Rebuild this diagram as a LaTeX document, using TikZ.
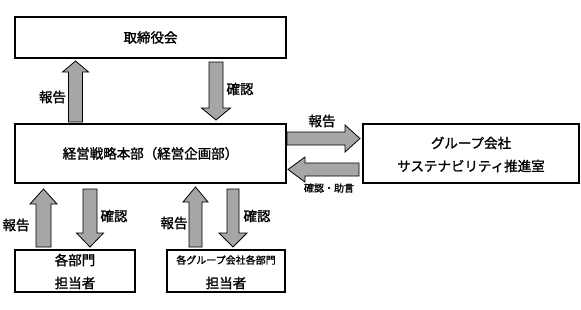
\documentclass[tikz,border=0pt]{standalone}
\usepackage{fontspec}
\setmainfont{Noto Sans CJK JP}[FakeBold=1.5,BoldFont=Noto Sans CJK JP]
\newcommand{\varr}[6]{% x, ytip, yheadbase, ytail, shaft half, head half
  \draw[blkarrow] ({#1-#5},#4) -- ({#1-#5},#3) -- ({#1-#6},#3) -- (#1,#2) -- ({#1+#6},#3) -- ({#1+#5},#3) -- ({#1+#5},#4) -- cycle;}
\newcommand{\harr}[6]{% y, xtip, xheadbase, xtail, shaft half, head half
  \draw[blkarrow] (#4,{#1-#5}) -- (#3,{#1-#5}) -- (#3,{#1-#6}) -- (#2,#1) -- (#3,{#1+#6}) -- (#3,{#1+#5}) -- (#4,{#1+#5}) -- cycle;}
\begin{document}
\begin{tikzpicture}[x=1pt,y=-1pt,
  box/.style={draw=black,line width=1.3pt,fill=white,inner sep=0pt,anchor=center},
  blkarrow/.style={draw=black,line width=0.8pt,fill=black!35},
  lbl/.style={inner sep=0pt,anchor=center,font=\fontsize{13.5}{16}\selectfont\bfseries},
  sml/.style={inner sep=0pt,anchor=center,font=\fontsize{10}{12}\selectfont\bfseries}]
\useasboundingbox (0,0) rectangle (581,309);
% boxes
\node[box,minimum width=271pt,minimum height=41pt] (board) at (150.5,37.5) {};
\node[box,minimum width=271pt,minimum height=59pt] (main) at (150.5,153.5) {};
\node[box,minimum width=216pt,minimum height=59pt] (sus) at (471,153.5) {};
\node[box,minimum width=120pt,minimum height=42pt] (dept) at (75,271) {};
\node[box,minimum width=118pt,minimum height=42pt] (grp) at (226,271) {};
% box texts
\node[lbl] (tboard) at (board.center) {取締役会};
\node[lbl] (tmain) at (main.center) {経営戦略本部（経営企画部）};
\node[lbl] (tsus1) at (471,143) {グループ会社};
\node[lbl] (tsus2) at (471,166) {サステナビリティ推進室};
\node[lbl] (tdept1) at (75,260) {各部門};
\node[lbl] (tdept2) at (75,283) {担当者};
\node[sml] (tgrp1) at (226,260) {各グループ会社各部門};
\node[lbl] (tgrp2) at (226,283) {担当者};
% block arrows
\varr{75.5}{61}{72}{122}{7}{13}
\varr{216}{120}{108}{62}{7}{14.5}
\varr{43.5}{189}{204}{247}{7.5}{13.5}
\varr{90}{247}{233}{189}{7}{13.5}
\varr{195.5}{187}{202}{247}{6.5}{12.5}
\varr{233}{247}{233}{189}{6}{14}
\harr{138.5}{360}{345}{287}{6.5}{13.5}
\harr{169.5}{288}{305}{359}{6.5}{12.5}
% arrow labels
\node[lbl] (l1) at (52.5,97) {報告};
\node[lbl] (l2) at (240,89) {確認};
\node[lbl] (l3) at (16,225) {報告};
\node[lbl] (l4) at (114,216) {確認};
\node[lbl] (l5) at (174,223) {報告};
\node[lbl] (l6) at (257,216) {確認};
\node[lbl] (l7) at (322,121) {報告};
\node[sml] (l8) at (329,188) {確認・助言};
\end{tikzpicture}
\end{document}
